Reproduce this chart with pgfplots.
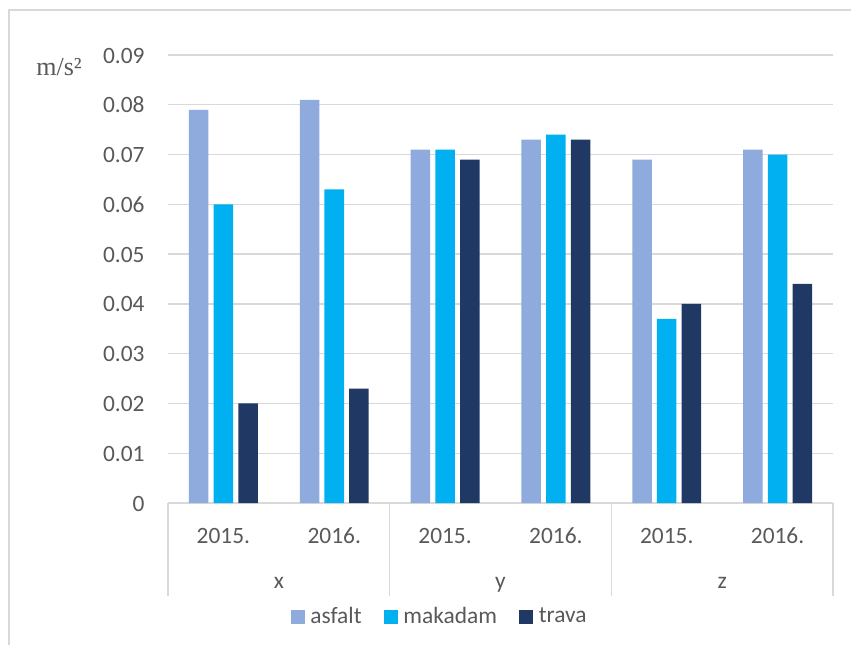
\documentclass[border=0pt]{standalone}
\usepackage{fontspec}
\setmainfont{Carlito}
\newfontfamily\serifx{Liberation Serif}
\usepackage{pgfplots}
\pgfplotsset{compat=1.18}
\definecolor{casf}{HTML}{8FAADC}
\definecolor{cmak}{HTML}{00B0F0}
\definecolor{ctra}{HTML}{203864}
\definecolor{ctxt}{HTML}{595959}
\definecolor{cgrid}{HTML}{D9D9D9}
\begin{document}
\begin{tikzpicture}
\path[use as bounding box] (0,0) rectangle (425.5pt,322.5pt);
\draw[cgrid, line width=0.7pt] (4.5pt,0) -- (4.5pt,317.5pt) -- (425.5pt,317.5pt);
\node[ctxt, font=\serifx\fontsize{13}{15}\selectfont] at (29.5pt,289pt) {m/s²};
\begin{axis}[
  at={(84pt,71pt)}, anchor=south west,
  scale only axis, width=332.5pt, height=224pt,
  xmin=-0.5, xmax=5.5, ymin=0, ymax=0.09,
  ybar=2.6pt, bar width=9.75pt,
  clip=false,
  axis line style={draw=none},
  major tick length=0pt,
  scaled y ticks=false,
  ytick={0,0.01,...,0.09},
  yticklabels={0,0.01,0.02,0.03,0.04,0.05,0.06,0.07,0.08,0.09},
  xtick={0,1,2,3,4,5},
  xticklabels={2015.,2016.,2015.,2016.,2015.,2016.},
  ymajorgrids,
  grid style={cgrid, line width=0.7pt},
  ticklabel style={font=\fontsize{11.7}{14}\selectfont, text=ctxt},
  yticklabel style={anchor=base east, inner sep=0pt, xshift=-11.5pt, yshift=-4pt},
  xticklabel style={anchor=base, inner sep=0pt, yshift=-20pt},
  legend style={at={(axis description cs:0.409,-0.2545)}, anchor=center,
    draw=none, fill=none, font=\fontsize{11.7}{14}\selectfont, text=ctxt,
    legend columns=3,
    /tikz/every odd column/.append style={column sep=1.5pt},
    /tikz/every even column/.append style={column sep=10pt},
    nodes={inner sep=1.2pt}},
  legend image code/.code={\fill[#1] (0pt,-3.5pt) rectangle (7pt,3.5pt);},
]
\addplot[fill=casf, draw=none] coordinates {(0,0.079) (1,0.081) (2,0.071) (3,0.073) (4,0.069) (5,0.071)};
\addplot[fill=cmak, draw=none] coordinates {(0,0.060) (1,0.063) (2,0.071) (3,0.074) (4,0.037) (5,0.070)};
\addplot[fill=ctra, draw=none] coordinates {(0,0.020) (1,0.023) (2,0.069) (3,0.073) (4,0.040) (5,0.044)};
\legend{asfalt,makadam,trava}
\foreach \xx in {-0.5,1.5,3.5,5.5}{
  \edef\tmp{\noexpand\draw[cgrid, line width=0.7pt] (axis cs:\xx,0) -- ([yshift=-46.5pt]axis cs:\xx,0);}\tmp
}
\node[anchor=base, text=ctxt, font=\fontsize{11.7}{14}\selectfont, inner sep=0pt] at ([yshift=-42.5pt]axis cs:0.5,0) {x};
\node[anchor=base, text=ctxt, font=\fontsize{11.7}{14}\selectfont, inner sep=0pt] at ([yshift=-42.5pt]axis cs:2.5,0) {y};
\node[anchor=base, text=ctxt, font=\fontsize{11.7}{14}\selectfont, inner sep=0pt] at ([yshift=-42.5pt]axis cs:4.5,0) {z};
\end{axis}
\end{tikzpicture}
\end{document}
